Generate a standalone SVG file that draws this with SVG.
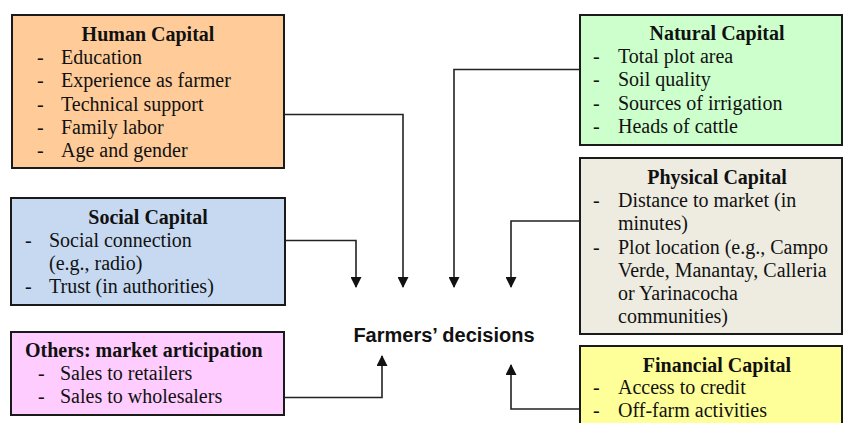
<svg xmlns="http://www.w3.org/2000/svg" width="843" height="423" viewBox="0 0 843 423">
<defs>
<style>
.box{stroke:#1a1a1a;stroke-width:2}
.t{font-family:"Liberation Serif","Times New Roman",serif;font-size:20px;fill:#111}
.h{font-weight:bold;text-anchor:middle}
.c{fill:none;stroke:#222;stroke-width:1.6}
.lbl{font-family:"Liberation Sans",Arial,sans-serif;font-size:20px;font-weight:bold;fill:#111;text-anchor:middle}
</style>
<marker id="ah" markerWidth="11" markerHeight="11" refX="10" refY="5.5" orient="auto" markerUnits="userSpaceOnUse">
<path d="M0,0 L11,5.5 L0,11 z" fill="#111"/>
</marker>
</defs>
<rect width="843" height="423" fill="#fff"/>

<g id="human">
<rect class="box" x="12" y="15" width="272" height="153" fill="#FFCC99"/>
<text class="t h" x="148" y="41">Human Capital</text>
<text class="t" x="37" y="64">-</text><text class="t" x="61" y="64">Education</text>
<text class="t" x="37" y="87.3">-</text><text class="t" x="61" y="87.3">Experience as farmer</text>
<text class="t" x="37" y="110.5">-</text><text class="t" x="61" y="110.5">Technical support</text>
<text class="t" x="37" y="133.7">-</text><text class="t" x="61" y="133.7">Family labor</text>
<text class="t" x="37" y="157">-</text><text class="t" x="61" y="157">Age and gender</text>
</g>

<g id="social">
<rect class="box" x="11" y="198" width="274" height="107" fill="#C6D9F1"/>
<text class="t h" x="148" y="224">Social Capital</text>
<text class="t" x="25" y="247">-</text><text class="t" x="49" y="247">Social connection</text>
<text class="t" x="49" y="270">(e.g., radio)</text>
<text class="t" x="25" y="293">-</text><text class="t" x="49" y="293">Trust (in authorities)</text>
</g>

<g id="others">
<rect class="box" x="11" y="332" width="273" height="83" fill="#FFCCFF"/>
<text class="t" x="25" y="357" font-weight="bold">Others: market articipation</text>
<text class="t" x="38" y="380">-</text><text class="t" x="60" y="380">Sales to retailers</text>
<text class="t" x="38" y="403">-</text><text class="t" x="60" y="403">Sales to wholesalers</text>
</g>

<g id="natural">
<rect class="box" x="580" y="15" width="262" height="130" fill="#CCFFCC"/>
<text class="t h" x="717" y="40">Natural Capital</text>
<text class="t" x="593" y="63">-</text><text class="t" x="618" y="63">Total plot area</text>
<text class="t" x="593" y="86.3">-</text><text class="t" x="618" y="86.3">Soil quality</text>
<text class="t" x="593" y="109.5">-</text><text class="t" x="618" y="109.5">Sources of irrigation</text>
<text class="t" x="593" y="132.7">-</text><text class="t" x="618" y="132.7">Heads of cattle</text>
</g>

<g id="physical">
<rect class="box" x="580" y="158" width="262" height="176" fill="#EEECE1"/>
<text class="t h" x="717" y="184">Physical Capital</text>
<text class="t" x="593" y="207">-</text><text class="t" x="618" y="207">Distance to market (in</text>
<text class="t" x="618" y="230">minutes)</text>
<text class="t" x="593" y="253.5">-</text><text class="t" x="618" y="253.5">Plot location (e.g., Campo</text>
<text class="t" x="618" y="276.7">Verde, Manantay, Calleria</text>
<text class="t" x="618" y="300">or Yarinacocha</text>
<text class="t" x="618" y="323">communities)</text>
</g>

<g id="financial">
<rect class="box" x="580" y="346" width="262" height="90" fill="#FFFF99"/>
<text class="t h" x="717" y="371.5">Financial Capital</text>
<text class="t" x="593" y="394">-</text><text class="t" x="618" y="394">Access to credit</text>
<text class="t" x="593" y="417">-</text><text class="t" x="618" y="417">Off-farm activities</text>
</g>

<g id="decisions">
<text class="lbl" x="444" y="341.5">Farmers’ decisions</text>
</g>

<g id="connectors">
<polyline class="c" points="284,114.5 403,114.5 403,287" marker-end="url(#ah)"/>
<polyline class="c" points="285,240.5 356,240.5 356,287" marker-end="url(#ah)"/>
<polyline class="c" points="284,397.5 382,397.5 382,356" marker-end="url(#ah)"/>
<polyline class="c" points="580,69.5 454,69.5 454,287" marker-end="url(#ah)"/>
<polyline class="c" points="580,221 511,221 511,287" marker-end="url(#ah)"/>
<polyline class="c" points="580,409 511,409 511,365" marker-end="url(#ah)"/>
</g>
</svg>
